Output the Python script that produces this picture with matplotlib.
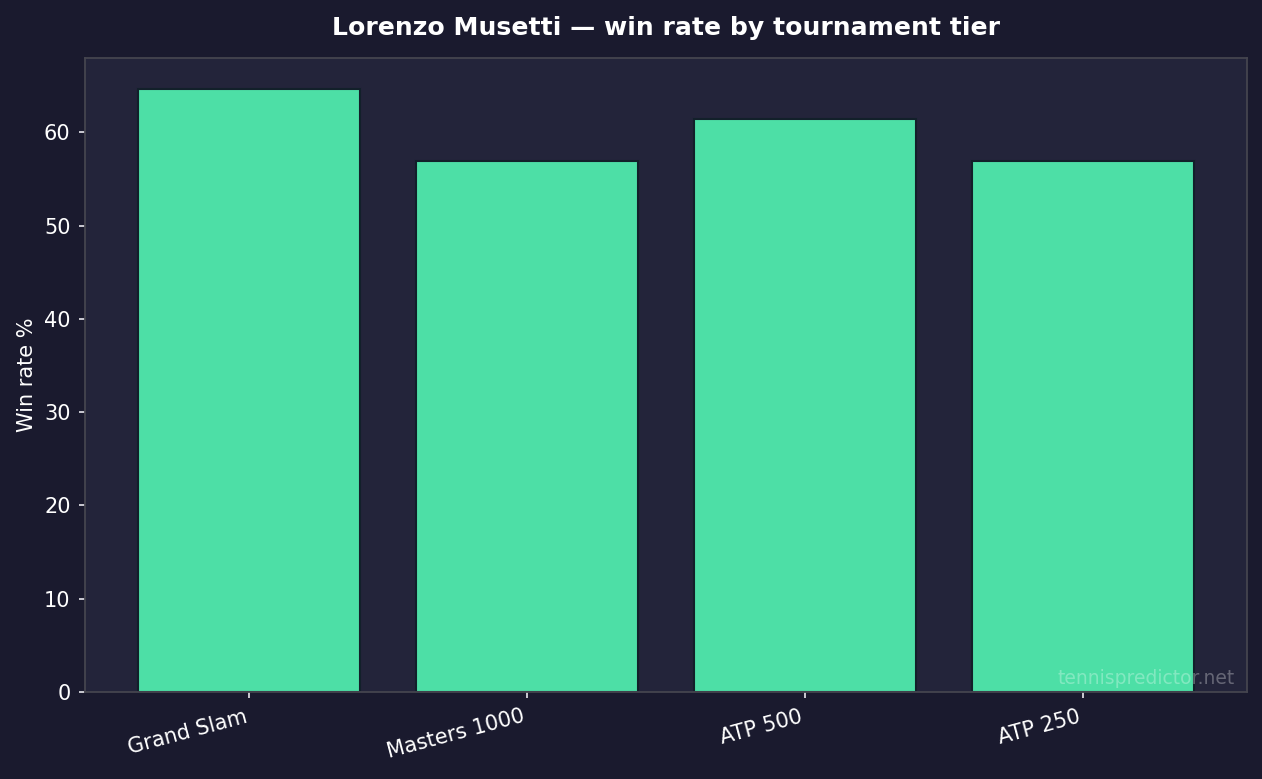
import matplotlib.pyplot as plt

tiers = ['Grand Slam', 'Masters 1000', 'ATP 500', 'ATP 250']
win_rate = [64.7, 56.9, 61.4, 56.9]

bg = '#1a1a2e'
panel = '#23243a'

fig, ax = plt.subplots(figsize=(12.62, 7.79), dpi=100)
fig.patch.set_facecolor(bg)
ax.set_facecolor(panel)

ax.bar(tiers, win_rate, width=0.8, color='#4ddfa6', edgecolor='#12202a', linewidth=1.5)

ax.set_title('Lorenzo Musetti — win rate by tournament tier', color='white',
             fontsize=18.1, fontweight='bold', pad=17)
ax.set_ylabel('Win rate %', color='white', fontsize=15, labelpad=5)
ax.tick_params(colors='#e8e8ee', labelcolor='white', labelsize=15, length=4.5, width=1.2, pad=6)
plt.setp(ax.get_xticklabels(), rotation=15, ha='right')
for s in ax.spines.values():
    s.set_color('#45454f')
    s.set_linewidth(1.3)

# watermark in the lower right corner
ax.text(0.99, 0.006, 'tennispredictor.net', transform=ax.transAxes, ha='right', va='bottom',
        color='white', alpha=0.3, fontsize=13.5)

fig.subplots_adjust(left=0.0675, right=0.988, top=0.925, bottom=0.112)
fig.savefig('out.png', facecolor=bg)
